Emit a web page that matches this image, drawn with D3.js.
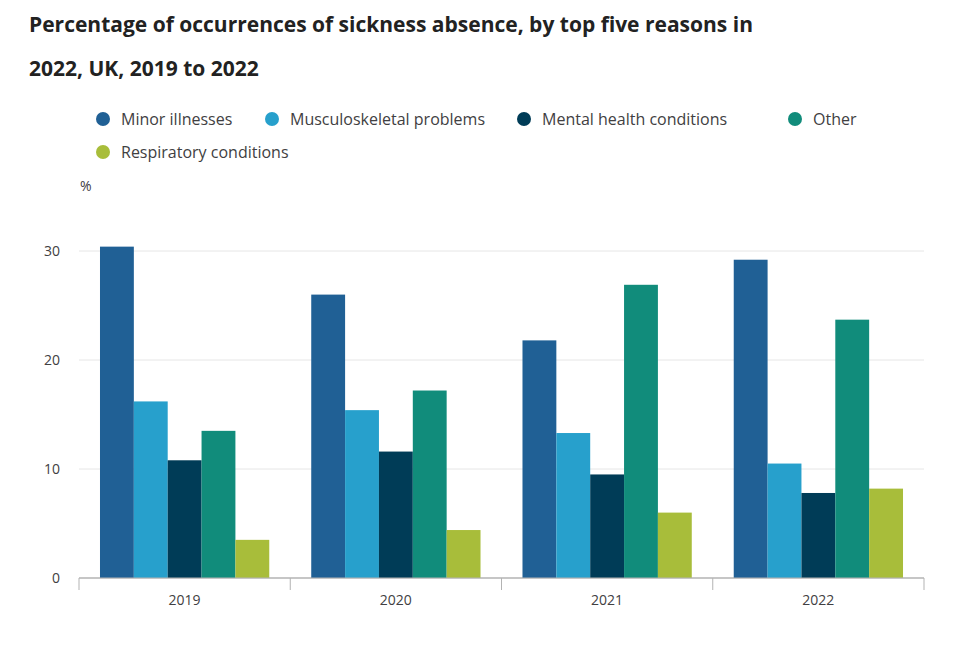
<!DOCTYPE html>
<html><head><meta charset="utf-8">
<script src="https://cdn.jsdelivr.net/npm/d3@7"></script>
<style>
body{margin:0;background:#fff;font-family:"Open Sans",sans-serif;}
</style></head>
<body><svg id="chart" width="964" height="648"></svg>
<script>
// Sickness absence reasons, percentage of occurrences
const series = [
  { key: "minor", label: "Minor illnesses", color: "#206095" },
  { key: "musc", label: "Musculoskeletal problems", color: "#27a0cc" },
  { key: "mental", label: "Mental health conditions", color: "#003c57" },
  { key: "other", label: "Other", color: "#118c7b" },
  { key: "resp", label: "Respiratory conditions", color: "#a8bd3a" }
];
const data = [
  { year: "2019", minor: 30.4, musc: 16.2, mental: 10.8, other: 13.5, resp: 3.5 },
  { year: "2020", minor: 26.0, musc: 15.4, mental: 11.6, other: 17.2, resp: 4.4 },
  { year: "2021", minor: 21.8, musc: 13.3, mental: 9.5, other: 26.9, resp: 6.0 },
  { year: "2022", minor: 29.2, musc: 10.5, mental: 7.8, other: 23.7, resp: 8.2 }
];

const svg = d3.select("#chart");

// Title
svg.append("text").attr("x", 29).attr("y", 32)
  .attr("font-size", 21).attr("font-weight", 700).attr("fill", "#222")
  .text("Percentage of occurrences of sickness absence, by top five reasons in");
svg.append("text").attr("x", 29).attr("y", 76)
  .attr("font-size", 21).attr("font-weight", 700).attr("fill", "#222")
  .text("2022, UK, 2019 to 2022");

// Legend
const legendPos = [[103, 119], [272, 119], [524, 119], [795, 119], [103, 152]];
series.forEach((s, i) => {
  const g = svg.append("g").attr("transform", `translate(${legendPos[i][0]},${legendPos[i][1]})`);
  g.append("circle").attr("r", 7).attr("fill", s.color);
  g.append("text").attr("x", 18).attr("dy", "0.35em")
    .attr("font-size", 16).attr("fill", "#414042").text(s.label);
});

const x0 = d3.scaleBand().domain(data.map(d => d.year)).range([79, 924]).paddingInner(0).paddingOuter(0);
const x1 = d3.scaleBand().domain(series.map(s => s.key)).range([0, x0.bandwidth()]).paddingInner(0).paddingOuter(0.62);
const y = d3.scaleLinear().domain([0, 30]).range([578, 251]);

svg.append("text").attr("x", 80).attr("y", 191).attr("font-size", 14).attr("fill", "#414042").text("%");

// Grid and y axis
[0, 10, 20, 30].forEach(t => {
  svg.append("line").attr("x1", 79).attr("x2", 924).attr("y1", y(t)).attr("y2", y(t))
    .attr("stroke", t === 0 ? "#b3b3b3" : "#e6e6e6");
  svg.append("text").attr("x", 60).attr("y", y(t)).attr("dy", "0.35em")
    .attr("text-anchor", "end").attr("font-size", 14).attr("fill", "#414042").text(t);
});

// Bars
const groups = svg.selectAll("g.year").data(data).enter().append("g")
  .attr("transform", d => `translate(${x0(d.year)},0)`);
groups.selectAll("rect").data(d => series.map(s => ({ s, v: d[s.key] }))).enter().append("rect")
  .attr("x", d => x1(d.s.key)).attr("width", x1.bandwidth())
  .attr("y", d => y(d.v)).attr("height", d => y(0) - y(d.v))
  .attr("fill", d => d.s.color);

// x axis
const xAxis = svg.append("g").attr("transform", "translate(0,578)");
xAxis.append("line").attr("x1", 79).attr("x2", 924).attr("stroke", "#b3b3b3");
const ticks = [79].concat(data.map(d => x0(d.year) + x0.bandwidth()));
ticks.forEach(t => xAxis.append("line").attr("x1", t).attr("x2", t).attr("y2", 12).attr("stroke", "#b3b3b3"));
data.forEach(d => xAxis.append("text").attr("x", x0(d.year) + x0.bandwidth() / 2).attr("y", 27)
  .attr("text-anchor", "middle").attr("font-size", 14).attr("fill", "#414042").text(d.year));
</script></body></html>
